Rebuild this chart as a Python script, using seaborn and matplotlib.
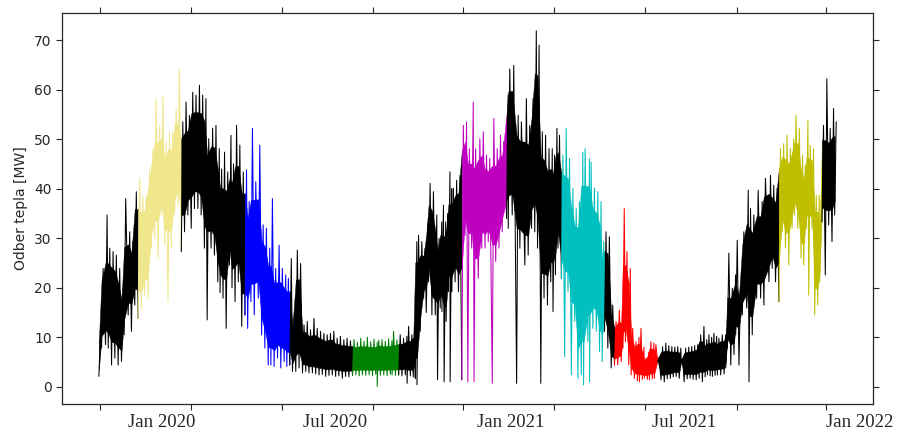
import numpy as np
import pandas as pd
import matplotlib
matplotlib.use("Agg")
import matplotlib.pyplot as plt
import matplotlib.dates as mdates
from matplotlib.ticker import FixedLocator, NullFormatter, FixedFormatter
import seaborn as sns

# ---------------- data ----------------
start_date = "2019-10-27"
# sample time (days after start_date) with the band's high / low value [MW]
day = [0.3, 3.1, 7.3, 10.1, 13.6, 17.0, 20.5, 24.0, 26.8, 31.0, 34.4, 37.9,
       41.4, 44.8, 48.3, 51.8, 55.3, 58.7, 62.3, 65.7, 69.1, 72.7, 76.1, 79.6, 83.1,
       86.6, 90.0, 93.5, 97.0, 100.4, 104.0, 107.4, 110.8, 113.7, 117.8, 121.3, 124.8,
       127.2, 130.3, 133.6, 137.0, 139.7, 142.9, 146.3, 149.9,
       153.3, 156.1, 159.5, 163.0, 167.2, 170.7, 174.1, 177.6, 180.4, 183.8, 187.4,
       190.8, 194.3, 197.1,
       200.2, 203.0, 206.5, 209.9, 213.5, 216.9, 220.3, 223.9, 227.3, 230.8, 234.3,
       237.8, 241.2, 244.7, 248.2, 251.6, 255.2, 258.6, 262.1,
       265.9, 269.4, 272.9, 276.3, 279.8, 283.3, 286.8, 290.2, 291.7, 295.1, 298.6,
       302.1, 305.5, 307.3, 310.8,
       314.2, 317.7, 321.2, 323.0, 326.4, 329.5, 331.6, 333.4, 336.8, 340.3, 343.1,
       345.5, 349.0, 352.5, 354.9, 357.7, 359.5, 361.8, 363.9, 366.3, 368.1, 369.9,
       373.3, 376.8,
       380.3, 383.7, 386.6, 390.7, 393.1, 397.6, 401.2, 404.6, 408.0, 412.2, 415.8,
       419.2, 422.6,
       427.2, 428.9, 433.1, 437.7, 441.1, 446.3, 449.8, 453.3, 456.7, 459.6, 463.0,
       466.4, 470.0, 473.4, 475.8, 478.3, 481.0,
       484.6, 488.0, 491.5, 495.0, 498.5, 501.9, 505.4, 507.8, 512.3, 514.1, 517.5,
       521.1, 524.5, 527.3,
       529.7, 533.2, 536.7,
       540.2, 543.6, 547.2, 548.8, 551.6, 555.1, 557.6, 561.0, 564.2, 566.3, 569.4,
       571.5, 574.6, 576.7, 579.8, 581.9,
       585.3, 588.9, 592.3, 595.4, 598.6, 601.7, 604.8, 608.0, 610.0, 613.1, 616.3,
       619.4, 622.5, 625.7, 628.8, 632.2, 635.1, 637.5, 640.3, 642.7, 645.5, 647.9,
       651.4, 654.9, 656.7, 658.3, 661.9, 665.3, 667.1, 670.5, 674.0, 678.6, 681.0,
       684.4, 689.0, 693.2, 696.6, 701.9, 705.3, 708.8,
       712.3, 715.7, 719.2, 722.7, 726.1, 728.6, 732.1, 735.5, 738.3, 741.1, 743.5,
       747.0, 749.8, 752.9, 755.0,
       757.4, 760.9, 764.4, 767.9, 770.7]

hi = [10.5, 23.9, 34.7, 28, 27.3, 26.6, 23.9, 19.9, 38, 31.3, 29.3, 39.4,
      42.1, 38.7, 38.7, 44, 48, 58.2, 52.8, 58.9, 49.5, 51.5, 51.5, 56.2, 64.2,
      53.5, 57.5, 54.8, 59.5, 58.9, 60.9, 58.9, 58.2, 50.1, 52.2, 52.8, 48.1, 44,
      47.4, 43.4, 50.8, 45, 52.8, 48.8, 43.4,
      43.8, 37.4, 52.2, 41.4, 48.8, 32.7, 32, 28, 38, 23.9, 28.6, 23.9, 22.6, 21.9,
      25.9, 13.8, 27.6, 24.9, 12.5, 13.2, 11.5, 13.8, 11.8, 11.2, 10.8, 10.5, 10.8,
      11.2, 9.8, 10.2, 9.5, 9.8, 9.3,
      9.5, 9.0, 9.8, 9.2, 10.0, 9.1, 9.6, 9.0, 9.4, 9.5, 9.2, 9.7, 9.3, 11.2, 9.5,
      10.5, 9.8, 10.2, 12.2, 10.5, 11.5, 29.3, 30.6, 29.3, 28, 33, 41.1, 39.4, 34.7,
      30, 33.3, 36.7, 33.3, 35, 43.4, 40, 40.1, 41.7, 42.7,
      52.8, 53.5, 48.1, 57.5, 48.1, 50.1, 51.5, 46.8, 46.1, 54.2, 48.1, 50.8, 49.5,
      58.9, 64.2, 64.9, 54.8, 53.5, 58.2, 52.8, 58.2, 71.9, 69, 51.5, 50.8, 48.1,
      48.1, 46.8, 52.2, 50.8,
      46.8, 52.2, 46.1, 40.1, 36, 37.4, 47.4, 48.1, 46.1, 45.4, 40.1, 39.4, 37.4, 29.3,
      31.3, 30.3, 16.5,
      13.2, 15.5, 14.5, 36, 27.3, 23.9, 11.8, 9.1, 10, 11.8, 8, 5.8, 7, 9.1, 8.8, 8.5,
      5.8, 8.1, 8.8, 8.3, 8.1, 8.0, 8.1, 7.8, 5.5, 7.8, 8.0, 8.1, 8.3, 8.5, 10.5,
      12.2, 9.5, 10.5, 10.0, 10.8, 10.2, 9.8, 10.5, 10.5, 11.8, 27, 19.9, 22.6, 29.6,
      19.9, 31.3, 39.7, 36, 34.7, 39.7, 37.4, 42.1, 42.7, 40.7, 40.1,
      48.1, 49.1, 50.8, 48.1, 50.1, 54.8, 52.2, 46.8, 44.8, 53.8, 48.8, 48.1, 38.7,
      38.7, 34.7,
      52.8, 62.2, 52.2, 56.2, 53.5]

lo = [2.1, 7.8, 8.5, 7.8, 4.4, 5.8, 4.4, 5.1, 10.5, 14.5, 11.2, 16.5,
      13.8, 15.9, 18.5, 17.9, 28, 30, 26, 34.7, 28.6, 17.2, 28, 34.7, 36.7,
      27.3, 31.3, 34.7, 32, 36, 36, 34.7, 28, 13.5, 28, 26.6, 21.2, 19, 17.9, 11.8,
      24.6, 20, 17.2, 21.2, 12.2,
      14.5, 11.8, 17.2, 14.5, 17.9, 10.5, 7.8, 4.4, 4.4, 4.1, 5.8, 3.8, 5.1, 4.1,
      4.4, 3.1, 3.1, 3.8, 2.8, 3.1, 2.8, 2.8, 2.6, 2.4, 2.5, 2.1, 2.3, 2.4, 2.1, 2.2,
      1.7, 2.1, 2.0,
      2.3, 2.4, 2.2, 2.4, 2.3, 2.4, 2.2, 2.5, 0.1, 2.3, 2.4, 2.2, 2.5, 2.4, 2.3,
      2.4, 2.2, 2.4, 0.7, 2.2, 2.0, 1.7, 0.4, 11.2, 17.9, 15, 21.2, 14.5, 14.5, 1.4,
      15.9, 15.2, 1.0, 13.2, 19.2, 1.0, 19.2, 21.2, 19.2,
      1.4, 30.6, 1.0, 28, 1.0, 21.9, 28, 28, 29.3, 0.7, 25.3, 28, 31.3,
      34, 32, 34.7, 0.7, 28, 24.6, 26.6, 32, 31.3, 28, 0.7, 17.9, 16.5, 21.2, 15.2,
      22.6, 28,
      21.9, 6.1, 19.2, 2.4, 13.2, 1.7, 2.4, 0.4, 9.1, 1.0, 11.8, 11.2, 7.1, 5.1,
      11.2, 7.8, 3.8,
      4.4, 4.4, 5.1, 7.8, 9.1, 4.4, 2.4, 1.7, 1.2, 1.0, 1.5, 1.7, 1.5, 1.4, 1.6, 1.7,
      5.1, 1.4, 1.0, 1.6, 1.7, 2.0, 2.1, 1.7, 5.0, 1.0, 1.6, 1.7, 1.5, 1.4, 1.7, 1.0,
      2.0, 2.4, 2.2, 2.1, 2.3, 2.4, 2.4, 2.6, 3.8, 7.8, 4.4, 6.5, 10.5, 4.4, 14.5,
      15.9, 1.0, 10.5, 17.9, 17.9, 16.5, 21.2, 23.9, 21.2,
      17.2, 31.3, 28, 24.6, 32, 34.7, 32, 26, 24.6, 32, 18.5, 32, 14.5, 16.5, 21.2,
      33.3, 22.6, 32.7, 29.3, 34.7]

# highlighted periods (days after start_date) and their colours
hl_start = [39, 151, 264, 378, 483, 538, 710]
hl_end = [85, 199, 312, 425, 528.5, 584, 756]
hl_color = ["khaki", "b", "g", "m", "c", "r", "y"]

tick_dates = ["2019-10-29", "2020-02-01", "2020-05-06", "2020-08-09", "2020-11-12",
              "2021-02-15", "2021-05-21", "2021-08-25", "2021-11-27"]
label_dates = ["2020-01-01", "2020-07-01", "2021-01-01", "2021-07-01", "2022-01-01"]
label_text = ["Jan 2020", "Jul 2020", "Jan 2021", "Jul 2021", "Jan 2022"]

assert len(day) == len(hi) == len(lo)

# ---------------- prepare ----------------
n = len(day)
d = np.asarray(day, float)
lo_a = np.asarray(lo, float)
hi_a = np.asarray(hi, float)
t0 = pd.Timestamp(start_date)

# dense core of the band: isolated one-sample spikes are clipped to the range
# of their neighbours, and the core is kept a little inside the envelope so the
# thin zig-zag strokes form the ragged fringe
lo_prev = np.r_[lo_a[0], lo_a[:-1]]
lo_next = np.r_[lo_a[1:], lo_a[-1]]
hi_prev = np.r_[hi_a[0], hi_a[:-1]]
hi_next = np.r_[hi_a[1:], hi_a[-1]]
c_lo = np.maximum(lo_a, np.minimum(lo_prev, lo_next))
c_hi = np.minimum(hi_a, np.maximum(hi_prev, hi_next))
width = c_hi - c_lo
core_lo = c_lo + 0.15 * width
core_hi = c_hi - 0.15 * width

seg_color = np.array(["k"] * n, dtype=object)
for s, e, c in zip(hl_start, hl_end, hl_color):
    seg_color[(d >= s) & (d <= e)] = c
run_id = np.concatenate([[0], np.cumsum(seg_color[1:] != seg_color[:-1])])

# ---------------- plot ----------------
sns.set_style("ticks")
plt.rcParams["font.family"] = ["DejaVu Sans"]

fig = plt.figure(figsize=(9.01, 4.34), dpi=100)
ax = fig.add_axes([0.0688, 0.069, 0.9002, 0.901])

for r in np.unique(run_id):
    idx = np.where(run_id == r)[0]
    color = seg_color[idx[0]]
    ext = idx if idx[-1] == n - 1 else np.append(idx, idx[-1] + 1)
    # zig-zag line: low then high within each sample
    tt, vv = [], []
    for i in idx:
        tt += [d[i], d[i] + 1.6]
        vv += [lo_a[i], hi_a[i]]
    if idx[-1] < n - 1:
        tt.append(d[idx[-1] + 1])
        vv.append(lo_a[idx[-1] + 1])
    line_df = pd.DataFrame({"time": t0 + pd.to_timedelta(tt, unit="D"), "MW": vv})
    fill_time = t0 + pd.to_timedelta(d[ext], unit="D")
    ax.fill_between(fill_time, core_lo[ext], core_hi[ext], color=color, lw=0.3,
                    edgecolor=color)
    sns.lineplot(data=line_df, x="time", y="MW", color=color, lw=0.75, sort=False,
                 estimator=None, ax=ax)

ax.set_xlabel("")
ax.set_ylabel("Odber tepla [MW]", fontsize=10, color="0.15")

ax.xaxis.set_major_locator(FixedLocator(mdates.date2num(pd.to_datetime(tick_dates))))
ax.xaxis.set_major_formatter(NullFormatter())
ax.xaxis.set_minor_locator(FixedLocator(mdates.date2num(pd.to_datetime(label_dates))))
ax.xaxis.set_minor_formatter(FixedFormatter(label_text))
ax.set_yticks(np.arange(0, 71, 10))

ax.tick_params(which="major", direction="out", top=True, right=True,
               length=4, width=0.8, labelsize=10)
ax.tick_params(axis="x", which="minor", length=0, pad=7, labelsize=13.5,
               top=False, bottom=True)
for lab in ax.get_xticklabels(minor=True):
    lab.set_fontfamily("Liberation Serif")

for sp in ax.spines.values():
    sp.set_visible(True)
    sp.set_linewidth(0.9)

fig.savefig("out.png", dpi=100)
